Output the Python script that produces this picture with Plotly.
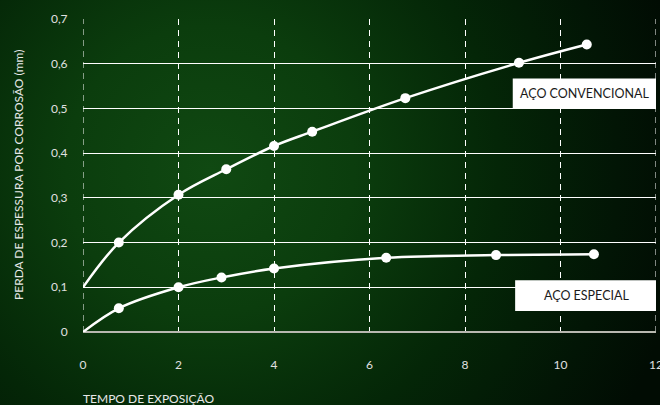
import base64
import plotly.graph_objects as go

# Data
conv_x = [0, 0.75, 2, 3, 4, 4.8, 6.75, 9.13, 10.55]
conv_y = [0.1, 0.2, 0.307, 0.364, 0.416, 0.448, 0.523, 0.602, 0.643]
esp_x = [0, 0.75, 2, 2.9, 4, 6.35, 8.65, 10.7]
esp_y = [0, 0.053, 0.1, 0.122, 0.142, 0.166, 0.172, 0.174]
x_ticks = [0, 2, 4, 6, 8, 10, 12]
y_ticks = [0, 0.1, 0.2, 0.3, 0.4, 0.5, 0.6, 0.7]
label_conv = "AÇO CONVENCIONAL"
label_esp = "AÇO ESPECIAL"

W, H = 660, 405
L, R, T, B = 83, 4, 19, 73
pw, ph = W - L - R, H - T - B

svg = f'''<svg xmlns="http://www.w3.org/2000/svg" width="{W}" height="{H}" viewBox="0 0 {W} {H}" preserveAspectRatio="none">
<defs><radialGradient id="g" cx="210" cy="170" r="480" gradientUnits="userSpaceOnUse">
<stop offset="0" stop-color="#104912"/>
<stop offset="0.3" stop-color="#0b3d0d"/>
<stop offset="0.6" stop-color="#042607"/>
<stop offset="0.85" stop-color="#021505"/>
<stop offset="1" stop-color="#010c03"/>
</radialGradient></defs>
<rect x="0" y="0" width="{W}" height="{H}" fill="url(#g)"/></svg>'''
src = "data:image/svg+xml;base64," + base64.b64encode(svg.encode()).decode()

sizes_c = [0] + [10] * (len(conv_x) - 1)
sizes_e = [0] + [10] * (len(esp_x) - 1)

fig = go.Figure()
# dashed verticals at the axis ends (plotly omits edge gridlines)
for xv in (x_ticks[0], x_ticks[-1]):
    fig.add_shape(type="line", x0=xv, x1=xv, y0=0, y1=1, xref="x", yref="paper",
                  line=dict(color="white", width=1, dash="6px,5px"), layer="below")

for xs, ys, sz in ((conv_x, conv_y, sizes_c), (esp_x, esp_y, sizes_e)):
    fig.add_trace(go.Scatter(x=xs, y=ys, mode="lines+markers",
                             line=dict(color="#ffffff", width=2.5, shape="spline", smoothing=1),
                             marker=dict(color="#ffffff", size=sz, opacity=1,
                                         line=dict(width=0)),
                             opacity=1, showlegend=False, cliponaxis=False))

fig.add_shape(type="rect", x0=9.0, x1=12.0, y0=0.5, y1=0.567, xref="x", yref="y",
              fillcolor="white", line=dict(width=0), layer="above")
fig.add_shape(type="rect", x0=9.05, x1=12.05, y0=0.047, y1=0.116, xref="x", yref="y",
              fillcolor="white", line=dict(width=0), layer="above")
fig.add_annotation(x=10.5, y=0.5335, xref="x", yref="y", text=label_conv, showarrow=False,
                   font=dict(family="Lato", size=12.5, color="#1a1a1a"))
fig.add_annotation(x=10.55, y=0.0815, xref="x", yref="y", text=label_esp, showarrow=False,
                   font=dict(family="Lato", size=12.5, color="#1a1a1a"))

fig.add_annotation(x=(18 - L) / pw, y=(T + ph - 175) / ph, xref="paper", yref="paper",
                   xanchor="center", yanchor="middle", textangle=-90,
                   text="PERDA DE ESPESSURA POR CORROSÃO (mm)", showarrow=False,
                   font=dict(family="Lato", size=12, color="#e8e8e8"))
fig.add_annotation(x=0, y=-(398 - T - ph) / ph, xref="paper", yref="paper", xanchor="left",
                   yanchor="middle", xshift=-2,
                   text="TEMPO DE EXPOSIÇÃO", showarrow=False,
                   font=dict(family="Lato", size=12, color="#e8e8e8"))

fig.add_layout_image(dict(source=src, xref="paper", yref="paper", x=-L / pw, y=1 + T / ph,
                          sizex=W / pw, sizey=H / ph, xanchor="left", yanchor="top",
                          sizing="stretch", layer="below"))

fig.update_layout(
    width=W, height=H, margin=dict(l=L, r=R, t=T, b=B, autoexpand=False),
    paper_bgcolor="#042607", plot_bgcolor="rgba(0,0,0,0)",
    separators=",.",
    font=dict(family="Lato", color="#e0e0e0", size=12),
    xaxis=dict(range=[0, 12], tickvals=x_ticks, showgrid=True, gridcolor="white",
               griddash="6px,5px", gridwidth=1, zeroline=False, showline=False,
               ticks="outside", ticklen=22, tickcolor="rgba(0,0,0,0)", automargin=False,
               ticklabeloverflow="allow",
               tickfont=dict(color="#e0e0e0", size=12)),
    yaxis=dict(range=[0, 0.7], tickvals=y_ticks, showgrid=True, gridcolor="white",
               gridwidth=1, zeroline=True, zerolinecolor="#b8b8b0", zerolinewidth=2,
               showline=False, ticks="outside", ticklen=12, tickcolor="rgba(0,0,0,0)",
               automargin=False, tickfont=dict(color="#e0e0e0", size=12)),
)

fig.write_html("out.html", config={"displayModeBar": False},
               post_script="document.body.style.margin='0';document.body.style.background='#010c03';")
